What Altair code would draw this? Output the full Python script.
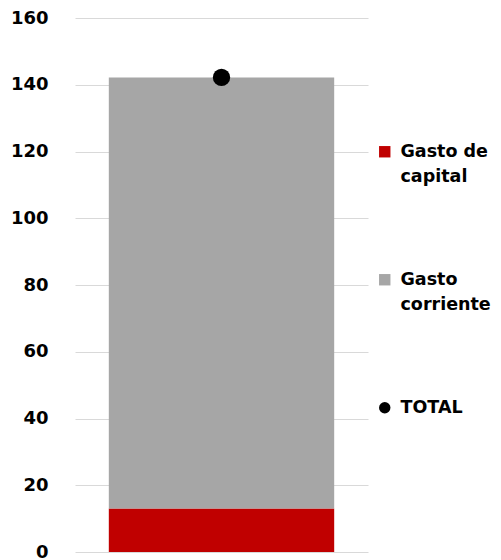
import altair as alt
import pandas as pd

# ---- data ----
categoria = ["Total"]
series = ["Gasto de capital", "Gasto corriente"]
valores = [13.0, 129.2]
orden = [1, 2]
total_label = ["TOTAL"]
total_valor = [142.2]

leyenda_dom = ["Gasto de capital", "Gasto corriente", "TOTAL"]
leyenda_col = ["#c00000", "#a6a6a6", "#000000"]
leyenda_shape = ["square", "square", "circle"]

bars = pd.DataFrame({
    "cat": categoria * len(series),
    "serie": series,
    "valor": valores,
    "orden": orden,
})
tot = pd.DataFrame({"cat": categoria, "serie": total_label, "valor": total_valor})

LABEL_EXPR = (
    "datum.label == 'Gasto de capital' ? ['Gasto de', 'capital'] : "
    "datum.label == 'Gasto corriente' ? ['Gasto', 'corriente'] : datum.label"
)


def make_legend():
    return alt.Legend(
        title=None,
        orient="none",
        legendX=301,
        legendY=125,
        labelFont="DejaVu Sans",
        labelFontSize=17.5,
        labelFontWeight="bold",
        labelColor="#000000",
        labelBaseline="middle",
        labelOffset=7,
        labelLimit=200,
        symbolSize=130,
        symbolStrokeWidth=0,
        rowPadding=84,
        labelExpr=LABEL_EXPR,
    )


color = alt.Color(
    "serie:N",
    scale=alt.Scale(domain=leyenda_dom, range=leyenda_col),
    legend=make_legend(),
)

shape = alt.Shape(
    "serie:N",
    scale=alt.Scale(domain=leyenda_dom, range=leyenda_shape),
    legend=make_legend(),
)

xenc = alt.X(
    "cat:N",
    axis=None,
    scale=alt.Scale(paddingInner=0, paddingOuter=0.15),
)
yenc = alt.Y(
    "valor:Q",
    stack="zero",
    scale=alt.Scale(domain=[0, 160], nice=False),
    axis=alt.Axis(
        title=None,
        values=[0, 20, 40, 60, 80, 100, 120, 140, 160],
        domain=False,
        ticks=False,
        labelPadding=27,
        labelFont="DejaVu Sans",
        labelFontSize=18,
        labelFontWeight="bold",
        labelColor="#000000",
        gridColor="#d9d9d9",
        gridWidth=1,
    ),
)

bar_layer = alt.Chart(bars).mark_bar(stroke=None).encode(
    x=xenc,
    y=yenc,
    color=color,
    order=alt.Order("orden:Q"),
)

point_layer = alt.Chart(tot).mark_point(filled=True, size=300, opacity=1).encode(
    x=alt.X("cat:N"),
    y=alt.Y("valor:Q"),
    color=color,
    shape=shape,
)

chart = (
    alt.layer(bar_layer, point_layer)
    .properties(
        width=293,
        height=534,
        padding={"top": 1, "left": 2, "right": 0, "bottom": 0},
    )
    .configure(style={"guide-label": {"lineHeight": 25}})
    .configure_view(stroke=None)
    .configure_axis(grid=True)
)

chart.save("out.html", embed_options={"renderer": "svg", "actions": False})
